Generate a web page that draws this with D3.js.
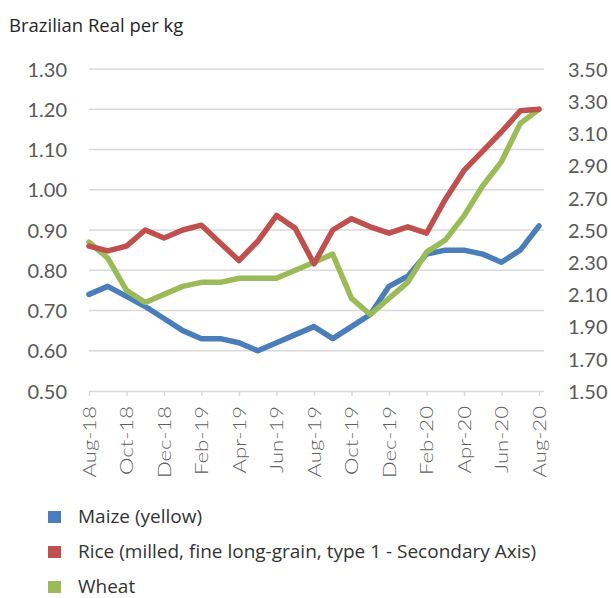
<!DOCTYPE html>
<html><head><meta charset="utf-8">
<script src="https://cdn.jsdelivr.net/npm/d3@7"></script>
<style>
html,body{margin:0;padding:0;background:#fff;}
svg{display:block;font-family:Lato, "Open Sans", sans-serif;}
</style></head>
<body><svg id="c" width="611" height="598"></svg>
<script>
const months = ["Aug-18","Sep-18","Oct-18","Nov-18","Dec-18","Jan-19","Feb-19","Mar-19","Apr-19","May-19","Jun-19","Jul-19","Aug-19","Sep-19","Oct-19","Nov-19","Dec-19","Jan-20","Feb-20","Mar-20","Apr-20","May-20","Jun-20","Jul-20","Aug-20"];
const tickLabels = ["Aug-18","Oct-18","Dec-18","Feb-19","Apr-19","Jun-19","Aug-19","Oct-19","Dec-19","Feb-20","Apr-20","Jun-20","Aug-20"];
const maize = [0.74,0.76,0.735,0.71,0.68,0.65,0.63,0.63,0.62,0.60,0.62,0.64,0.66,0.63,0.66,0.69,0.76,0.785,0.84,0.85,0.85,0.84,0.82,0.85,0.91];
const wheat = [0.87,0.83,0.75,0.72,0.74,0.76,0.77,0.77,0.78,0.78,0.78,0.80,0.82,0.84,0.73,0.69,0.73,0.77,0.845,0.875,0.935,1.01,1.07,1.165,1.20];
const rice  = [2.40,2.37,2.40,2.50,2.45,2.50,2.53,2.42,2.31,2.43,2.59,2.51,2.29,2.50,2.57,2.52,2.48,2.52,2.48,2.69,2.87,2.99,3.11,3.24,3.25];
const leftTicks = [0.5,0.6,0.7,0.8,0.9,1.0,1.1,1.2,1.3];
const rightTicks = [1.5,1.7,1.9,2.1,2.3,2.5,2.7,2.9,3.1,3.3,3.5];
const seriesNames = ["Maize (yellow)","Rice (milled, fine long-grain, type 1 - Secondary Axis)","Wheat"];
const seriesColors = ["#4a7ebb","#c0504d","#9bbb59"];

const svg = d3.select("#c");
const x = d3.scalePoint().domain(months).range([89, 539]);
const yL = d3.scaleLinear().domain([0.5, 1.3]).range([391, 69]);
const yR = d3.scaleLinear().domain([1.5, 3.5]).range([391, 69]);

svg.append("text").attr("x", 9).attr("y", 32).attr("font-size", 18.5)
  .attr("font-family", "Open Sans").attr("fill", "#262626").text("Brazilian Real per kg");

// gridlines
svg.append("g").selectAll("line").data(leftTicks.slice(1)).join("line")
  .attr("x1", 89).attr("x2", 544).attr("y1", d => yL(d)).attr("y2", d => yL(d))
  .attr("stroke", "#d9d9d9").attr("stroke-width", 1.5);

// left axis labels
const gl = svg.append("g").attr("transform", "translate(67,0)")
  .call(d3.axisLeft(yL).tickValues(leftTicks).tickFormat(d3.format(".2f")).tickSize(0).tickPadding(0));
gl.select(".domain").remove();
gl.selectAll("text").attr("font-size", 20).attr("fill", "#595959").attr("font-family", "Lato").attr("dy", "0.36em");

// right axis labels
const gr = svg.append("g").attr("transform", "translate(568,0)")
  .call(d3.axisRight(yR).tickValues(rightTicks).tickFormat(d3.format(".2f")).tickSize(0).tickPadding(0));
gr.select(".domain").remove();
gr.selectAll("text").attr("font-size", 20).attr("fill", "#595959").attr("font-family", "Lato").attr("dy", "0.36em");

// x axis
const gx = svg.append("g").attr("transform", "translate(0,391)")
  .call(d3.axisBottom(x).tickValues(tickLabels).tickSize(5).tickSizeOuter(0).tickPadding(0));
gx.select(".domain").attr("stroke", "#d9d9d9").attr("stroke-width", 1.5).attr("d", "M89,0.5H544");
gx.selectAll(".tick line").attr("stroke", "#d9d9d9").attr("stroke-width", 1.5);
gx.selectAll(".tick text")
  .attr("font-size", 17).attr("fill", "#5f5f5f").attr("font-family", "Lato").attr("font-weight", 300)
  .attr("text-anchor", "end").attr("transform", "translate(0,15) rotate(-90) scale(1.3,1)")
  .attr("x", 0).attr("y", 0).attr("dy", "0.36em");

// lines
const lineL = d3.line().x((d, i) => x(months[i])).y(d => yL(d));
const lineR = d3.line().x((d, i) => x(months[i])).y(d => yR(d));
const pathAttrs = p => p.attr("fill", "none").attr("stroke-width", 5.5).attr("stroke-linejoin", "round").attr("stroke-linecap", "round");
svg.append("path").datum(maize).attr("d", lineL).attr("stroke", seriesColors[0]).call(pathAttrs);
svg.append("path").datum(wheat).attr("d", lineL).attr("stroke", seriesColors[2]).call(pathAttrs);
svg.append("path").datum(rice).attr("d", lineR).attr("stroke", seriesColors[1]).call(pathAttrs);

// legend
const lg = svg.append("g").selectAll("g").data(seriesNames).join("g")
  .attr("transform", (d, i) => `translate(0,${517 + i * 35})`);
lg.append("rect").attr("x", 48).attr("y", -6).attr("width", 13).attr("height", 12).attr("fill", (d, i) => seriesColors[i]);
lg.append("text").attr("x", 78).attr("y", 0).attr("dy", "0.34em").attr("font-size", 19)
  .attr("font-family", "Open Sans").attr("fill", "#333").text(d => d);
</script></body></html>
